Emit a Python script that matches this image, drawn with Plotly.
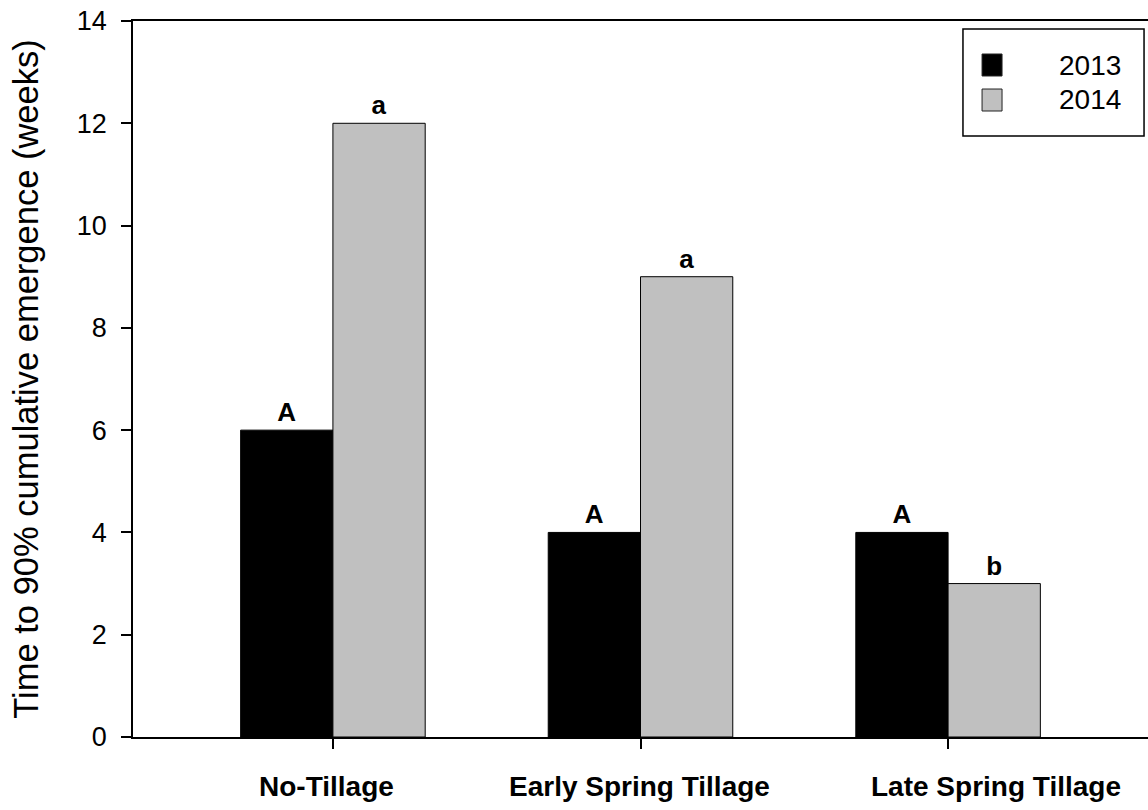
import plotly.graph_objects as go

categories = ["No-Tillage", "Early Spring Tillage", "Late Spring Tillage"]
years = ["2013", "2014"]
values_2013 = [6, 4, 4]
values_2014 = [12, 9, 3]
letters_2013 = ["A", "A", "A"]
letters_2014 = ["a", "a", "b"]
y_ticks = [0, 2, 4, 6, 8, 10, 12, 14]
colors = ["#000000", "#c0c0c0"]
label_offsets = [-6, -1, 48]  # horizontal placement of category labels (px)

FONT = "Liberation Sans, Arial, sans-serif"
x_idx = list(range(len(categories)))

fig = go.Figure()
for name, vals, letters, color in [
    (years[0], values_2013, letters_2013, colors[0]),
    (years[1], values_2014, letters_2014, colors[1]),
]:
    fig.add_trace(go.Bar(
        x=x_idx, y=vals, name=name,
        marker=dict(color=color, line=dict(color="black", width=1)),
        text=[f"<b>{t}</b>" for t in letters],
        textposition="outside",
        textangle=0,
        constraintext="none",
        cliponaxis=False,
        outsidetextfont=dict(family=FONT, size=26, color="black"),
        showlegend=False,
    ))

# Legend (drawn as a framed box with swatches and labels)
shapes = [dict(type="rect", xref="paper", yref="paper",
               x0=0.8177, x1=0.9961, y0=0.8394, y1=0.9888,
               line=dict(color="black", width=1.5), fillcolor="white", layer="above")]
annotations = []
sw_y = [(0.9232, 0.9539), (0.8743, 0.9050)]
txt_y = [0.9385, 0.8897]
for i, yr in enumerate(years):
    shapes.append(dict(type="rect", xref="paper", yref="paper",
                       x0=0.8365, x1=0.8562, y0=sw_y[i][0], y1=sw_y[i][1],
                       line=dict(color="#222222", width=1), fillcolor=colors[i], layer="above"))
    annotations.append(dict(xref="paper", yref="paper", x=0.9754, y=txt_y[i],
                            xanchor="right", yanchor="middle", showarrow=False,
                            text=yr, font=dict(family=FONT, size=28, color="black")))

# Category labels under the x axis
for i, cat in enumerate(categories):
    annotations.append(dict(xref="x", yref="y", x=x_idx[i], y=0,
                            xanchor="center", yanchor="top", showarrow=False,
                            xshift=label_offsets[i], yshift=-32,
                            text=f"<b>{cat}</b>",
                            font=dict(family=FONT, size=28, color="black")))

fig.update_layout(
    width=1148, height=810,
    margin=dict(l=133, r=0, t=21, b=73),
    paper_bgcolor="white", plot_bgcolor="white",
    barmode="group", bargap=0.4, bargroupgap=0,
    font=dict(family=FONT, size=27, color="black"),
    showlegend=False,
    shapes=shapes,
    annotations=annotations,
    xaxis=dict(
        range=[-0.65, 2.65],
        tickmode="array", tickvals=x_idx,
        showticklabels=False,
        ticks="outside", ticklen=10, tickwidth=1.5, tickcolor="black",
        showline=True, linecolor="black", linewidth=1.5, mirror=True,
        showgrid=False, zeroline=False,
    ),
    yaxis=dict(
        range=[0, 14],
        tickmode="array", tickvals=y_ticks,
        tickfont=dict(family=FONT, size=27, color="black"),
        ticks="outside", ticklen=10, tickwidth=1.5, tickcolor="black",
        ticklabelstandoff=9,
        showline=True, linecolor="black", linewidth=1.5,
        showgrid=False, zeroline=False,
        title=dict(text="Time to 90% cumulative emergence (weeks)",
                   font=dict(family=FONT, size=34.5, color="black"), standoff=28),
    ),
)

fig.write_html("out.html")
